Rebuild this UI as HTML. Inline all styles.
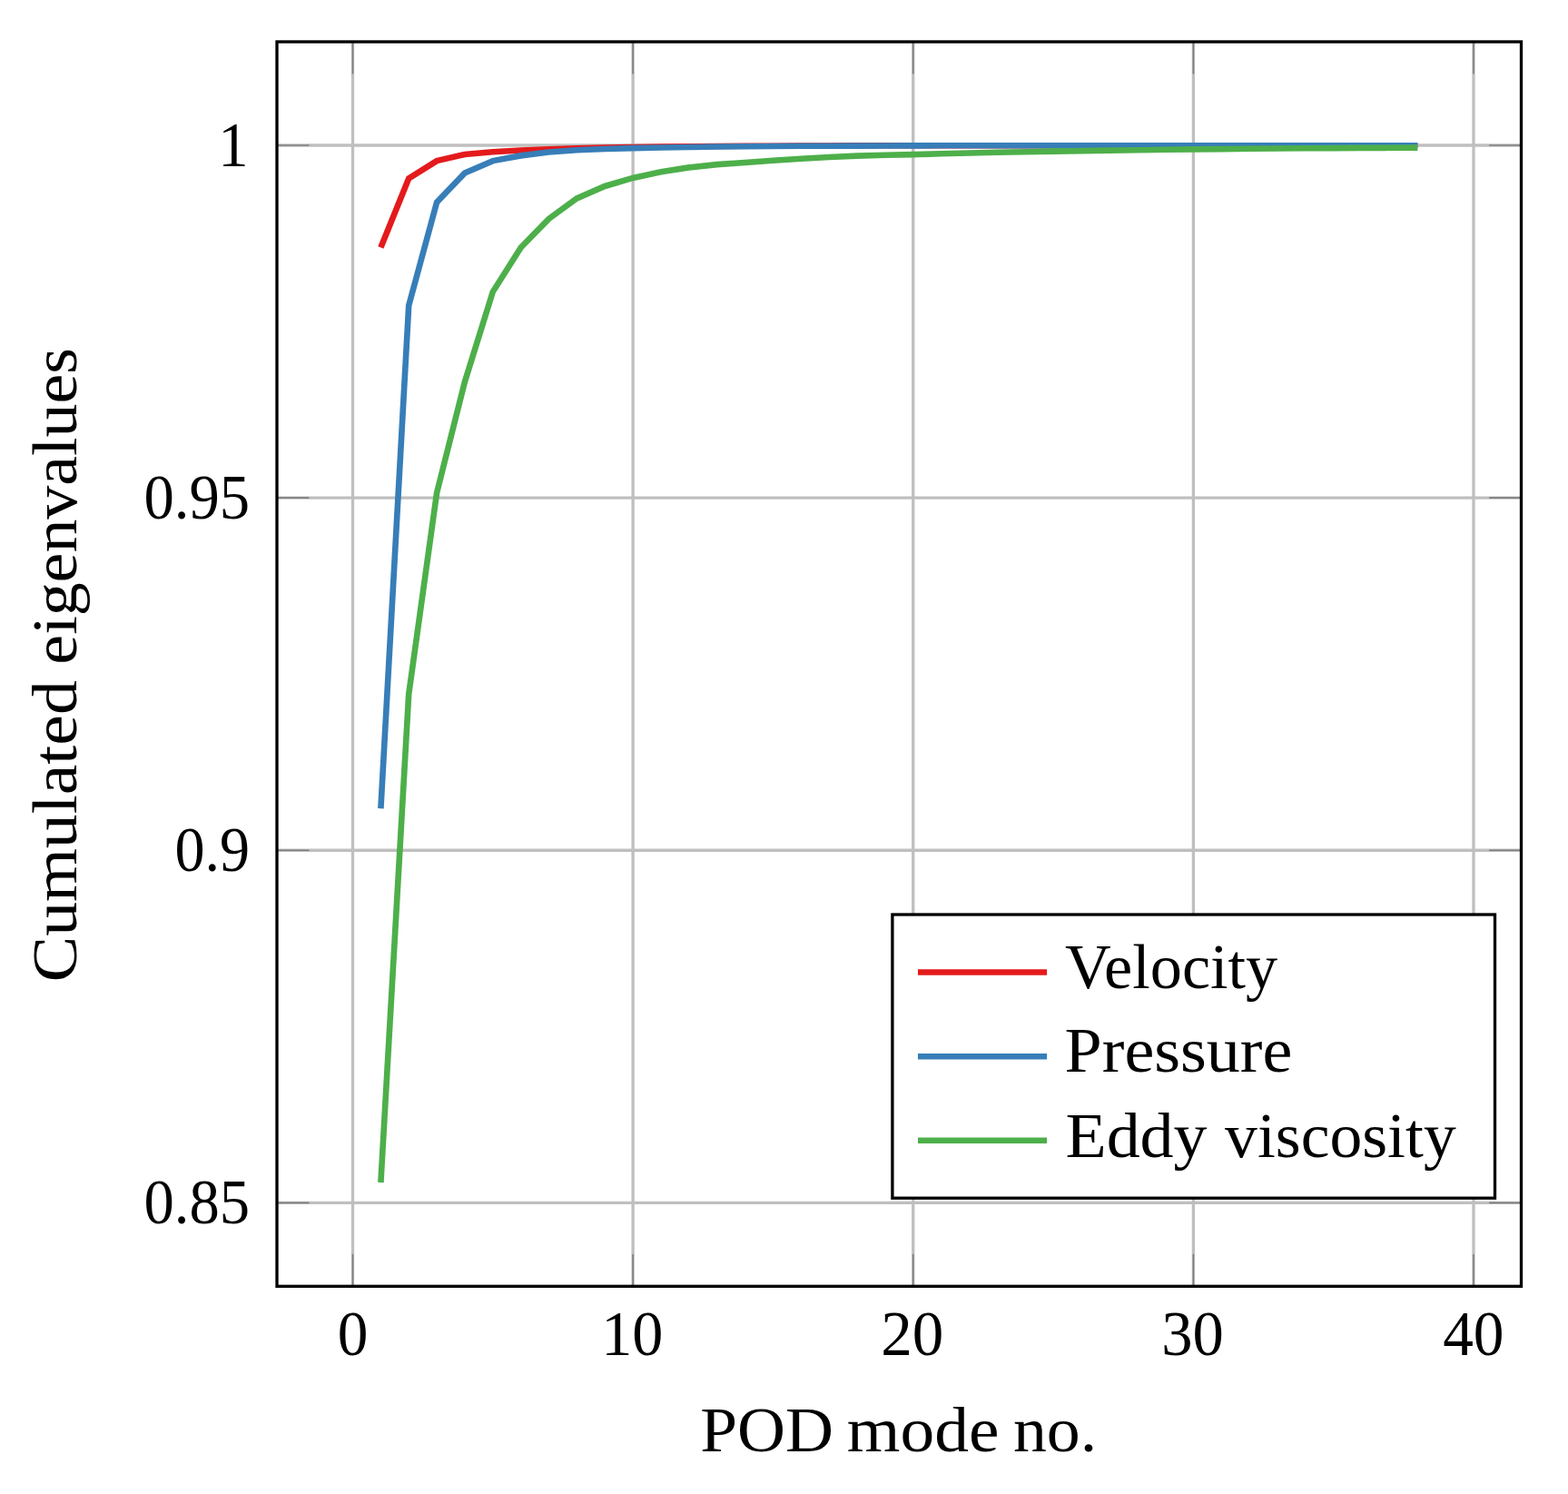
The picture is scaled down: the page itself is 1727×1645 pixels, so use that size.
<!DOCTYPE html>
<html lang="en"><head><meta charset="utf-8"><title>Cumulated eigenvalues vs POD mode no.</title>
<style>html,body{margin:0;padding:0;background:#fff}body{width:1727px;height:1645px;overflow:hidden}svg{display:block}text{font-family:"Liberation Serif","DejaVu Serif",serif;fill:#000}</style>
</head><body>
<svg width="1727" height="1645" viewBox="0 0 1727 1645">
<rect x="0" y="0" width="1727" height="1645" fill="#fff"/>
<g stroke="#bfbfbf" stroke-width="3.32" fill="none">
<line x1="388.50" y1="46.0" x2="388.50" y2="1416.3"/>
<line x1="697.12" y1="46.0" x2="697.12" y2="1416.3"/>
<line x1="1005.75" y1="46.0" x2="1005.75" y2="1416.3"/>
<line x1="1314.38" y1="46.0" x2="1314.38" y2="1416.3"/>
<line x1="1623.00" y1="46.0" x2="1623.00" y2="1416.3"/>
<line x1="305.0" y1="160.00" x2="1675.5" y2="160.00"/>
<line x1="305.0" y1="548.13" x2="1675.5" y2="548.13"/>
<line x1="305.0" y1="936.27" x2="1675.5" y2="936.27"/>
<line x1="305.0" y1="1324.40" x2="1675.5" y2="1324.40"/>
</g>
<g stroke="#7f7f7f" stroke-width="1.66" fill="none">
<line x1="388.50" y1="46.0" x2="388.50" y2="81.4"/>
<line x1="388.50" y1="1416.3" x2="388.50" y2="1380.9"/>
<line x1="697.12" y1="46.0" x2="697.12" y2="81.4"/>
<line x1="697.12" y1="1416.3" x2="697.12" y2="1380.9"/>
<line x1="1005.75" y1="46.0" x2="1005.75" y2="81.4"/>
<line x1="1005.75" y1="1416.3" x2="1005.75" y2="1380.9"/>
<line x1="1314.38" y1="46.0" x2="1314.38" y2="81.4"/>
<line x1="1314.38" y1="1416.3" x2="1314.38" y2="1380.9"/>
<line x1="1623.00" y1="46.0" x2="1623.00" y2="81.4"/>
<line x1="1623.00" y1="1416.3" x2="1623.00" y2="1380.9"/>
<line x1="305.0" y1="160.00" x2="340.4" y2="160.00"/>
<line x1="1675.5" y1="160.00" x2="1640.1" y2="160.00"/>
<line x1="305.0" y1="548.13" x2="340.4" y2="548.13"/>
<line x1="1675.5" y1="548.13" x2="1640.1" y2="548.13"/>
<line x1="305.0" y1="936.27" x2="340.4" y2="936.27"/>
<line x1="1675.5" y1="936.27" x2="1640.1" y2="936.27"/>
<line x1="305.0" y1="1324.40" x2="340.4" y2="1324.40"/>
<line x1="1675.5" y1="1324.40" x2="1640.1" y2="1324.40"/>
</g>
<rect x="305.0" y="46.0" width="1370.5" height="1370.3" fill="none" stroke="#000" stroke-width="3.32"/>
<g fill="none" stroke-width="6.64" stroke-linejoin="miter" stroke-miterlimit="10" stroke-linecap="butt">
<polyline stroke="#e41a1c" points="419.4,272.5 450.2,196.5 481.1,177.1 511.9,170.0 542.8,167.2 573.7,165.5 604.5,164.2 635.4,163.3 666.3,162.6 697.1,162.0 728.0,161.6 758.9,161.3 789.7,161.0 820.6,160.8 851.4,160.7 882.3,160.6 913.2,160.5 944.0,160.4 974.9,160.3 1005.8,160.3 1036.6,160.2 1067.5,160.2 1098.3,160.2 1129.2,160.2 1160.1,160.2 1190.9,160.2 1221.8,160.2 1252.7,160.2 1283.5,160.2 1314.4,160.2 1345.2,160.2 1376.1,160.2 1407.0,160.2 1437.8,160.2 1468.7,160.2 1499.5,160.2 1530.4,160.2 1561.3,160.2"/>
<polyline stroke="#377eb8" points="419.4,890.3 450.2,336.5 481.1,222.7 511.9,190.5 542.8,177.1 573.7,171.4 604.5,167.5 635.4,165.2 666.3,164.0 697.1,163.1 728.0,162.5 758.9,162.0 789.7,161.5 820.6,161.2 851.4,161.0 882.3,160.8 913.2,160.7 944.0,160.6 974.9,160.5 1005.8,160.4 1036.6,160.2 1067.5,160.2 1098.3,160.2 1129.2,160.2 1160.1,160.2 1190.9,160.2 1221.8,160.2 1252.7,160.2 1283.5,160.2 1314.4,160.2 1345.2,160.2 1376.1,160.2 1407.0,160.2 1437.8,160.2 1468.7,160.2 1499.5,160.2 1530.4,160.2 1561.3,160.2"/>
<polyline stroke="#4daf4a" points="419.4,1302.0 450.2,764.4 481.1,542.6 511.9,420.4 542.8,321.3 573.7,272.5 604.5,240.9 635.4,218.4 666.3,205.0 697.1,195.9 728.0,189.2 758.9,184.4 789.7,181.1 820.6,179.0 851.4,176.7 882.3,174.7 913.2,173.0 944.0,171.6 974.9,170.8 1005.8,170.1 1036.6,169.3 1067.5,168.5 1098.3,167.8 1129.2,167.2 1160.1,166.6 1190.9,166.1 1221.8,165.6 1252.7,165.2 1283.5,164.8 1314.4,164.4 1345.2,164.1 1376.1,163.8 1407.0,163.5 1437.8,163.3 1468.7,163.1 1499.5,162.9 1530.4,162.8 1561.3,162.6"/>
</g>
<rect x="982.9" y="1007.0" width="663.6" height="312.2" fill="#fff" stroke="#000" stroke-width="3.32"/>
<g fill="none" stroke-width="6.64">
<line stroke="#e41a1c" x1="1011" y1="1070.45" x2="1153.1" y2="1070.45"/>
<line stroke="#377eb8" x1="1011" y1="1163.25" x2="1153.1" y2="1163.25"/>
<line stroke="#4daf4a" x1="1011" y1="1255.8" x2="1153.1" y2="1255.8"/>
</g>
<g>
<text font-size="70" y="182.80"><tspan x="240.37" textLength="33.33" lengthAdjust="spacingAndGlyphs">1</tspan></text>
<text font-size="70" y="570.93"><tspan x="158.50" textLength="116.67" lengthAdjust="spacingAndGlyphs">0.95</tspan></text>
<text font-size="70" y="959.07"><tspan x="192.42" textLength="82.73" lengthAdjust="spacingAndGlyphs">0.9</tspan></text>
<text font-size="70" y="1347.20"><tspan x="158.50" textLength="116.67" lengthAdjust="spacingAndGlyphs">0.85</tspan></text>
<text font-size="70" y="1492.30"><tspan x="371.68" textLength="33.65" lengthAdjust="spacingAndGlyphs">0</tspan></text>
<text font-size="70" y="1492.30"><tspan x="662.23" textLength="68.23" lengthAdjust="spacingAndGlyphs">10</tspan></text>
<text font-size="70" y="1492.30"><tspan x="970.29" textLength="69.10" lengthAdjust="spacingAndGlyphs">20</tspan></text>
<text font-size="70" y="1492.30"><tspan x="1279.14" textLength="68.63" lengthAdjust="spacingAndGlyphs">30</tspan></text>
<text font-size="70" y="1492.30"><tspan x="1589.15" textLength="67.37" lengthAdjust="spacingAndGlyphs">40</tspan></text>
<text font-size="69.3" y="1598.20"><tspan x="771.30" textLength="146.77" lengthAdjust="spacingAndGlyphs">POD</tspan> <tspan x="932.89" textLength="167.48" lengthAdjust="spacingAndGlyphs">mode</tspan> <tspan x="1115.94" textLength="92.26" lengthAdjust="spacingAndGlyphs">no.</tspan></text>
<text font-size="69.3" y="1088.00"><tspan x="1173.10" textLength="234.16" lengthAdjust="spacingAndGlyphs">Velocity</tspan></text>
<text font-size="69.3" y="1180.20"><tspan x="1172.58" textLength="250.76" lengthAdjust="spacingAndGlyphs">Pressure</tspan></text>
<text font-size="69.3" y="1274.10"><tspan x="1173.48" textLength="156.07" lengthAdjust="spacingAndGlyphs">Eddy</tspan> <tspan x="1349.10" textLength="254.63" lengthAdjust="spacingAndGlyphs">viscosity</tspan></text>
<text font-size="69.3" transform="translate(83.9,0) rotate(-90)" y="0"><tspan x="-1081.33" textLength="332.13" lengthAdjust="spacingAndGlyphs">Cumulated</tspan> <tspan x="-731.66" textLength="348.76" lengthAdjust="spacingAndGlyphs">eigenvalues</tspan></text>
</g>
</svg>
</body></html>
